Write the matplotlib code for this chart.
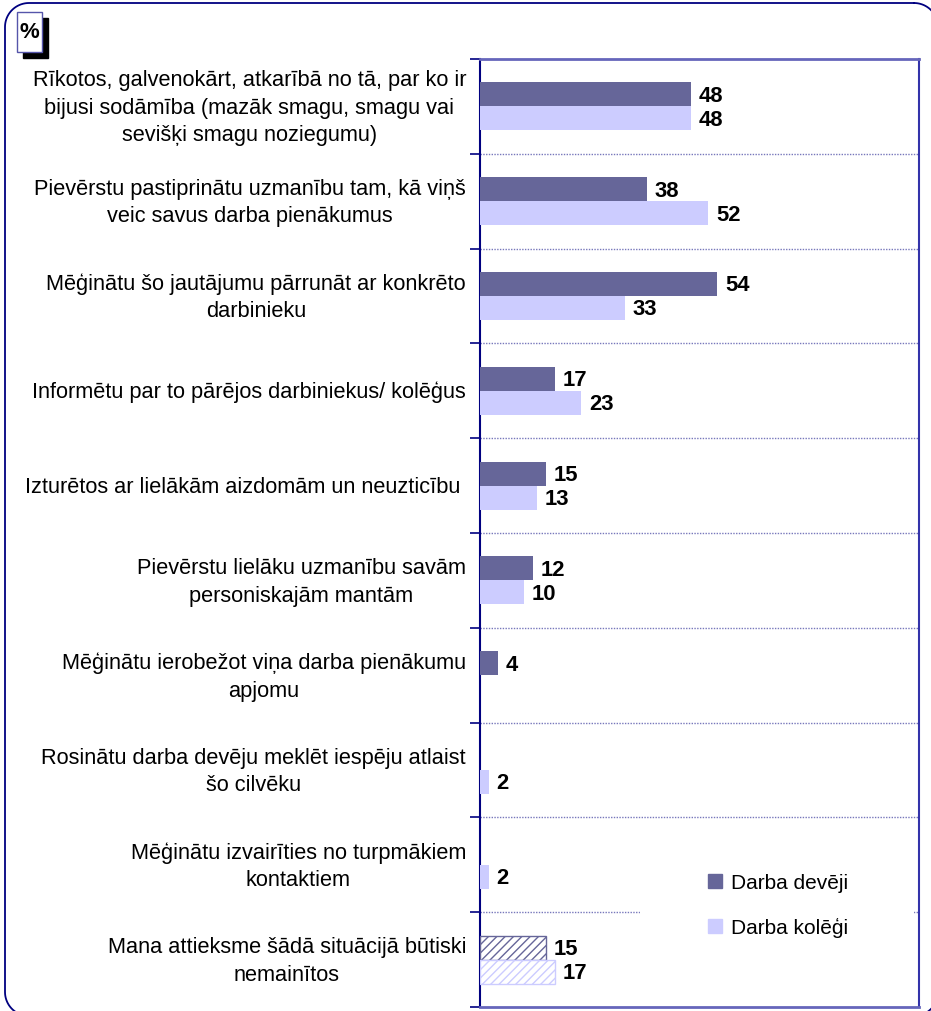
import numpy as np
import matplotlib.pyplot as plt
from matplotlib.patches import Rectangle
from matplotlib.lines import Line2D
from matplotlib.transforms import blended_transform_factory

plt.rcParams['font.family'] = ['Liberation Sans', 'DejaVu Sans']

# -----------------------------------
# DATA
# -----------------------------------
categories = [
    "Rīkotos, galvenokārt, atkarībā no tā, par ko ir\nbijusi sodāmība (mazāk smagu, smagu vai\nsevišķi smagu noziegumu)",
    "Pievērstu pastiprinātu uzmanību tam, kā viņš\nveic savus darba pienākumus",
    "Mēģinātu šo jautājumu pārrunāt ar konkrēto\ndarbinieku",
    "Informētu par to pārējos darbiniekus/ kolēģus",
    "Izturētos ar lielākām aizdomām un neuzticību ",
    "Pievērstu lielāku uzmanību savām\npersoniskajām mantām",
    "Mēģinātu ierobežot viņa darba pienākumu\napjomu",
    "Rosinātu darba devēju meklēt iespēju atlaist\nšo cilvēku",
    "Mēģinātu izvairīties no turpmākiem\nkontaktiem",
    "Mana attieksme šādā situācijā būtiski\nnemainītos",
]
deveji = [48, 38, 54, 17, 15, 12, 4, None, None, 15]
kolegi = [48, 52, 33, 23, 13, 10, None, 2, 2, 17]
series_names = ["Darba devēji", "Darba kolēģi"]

DARK = "#666699"
LIGHT = "#ccccff"
NAVY = "#000080"
GRID = "#7777bb"

# -----------------------------------
# FIGURE
# -----------------------------------
fig = plt.figure(figsize=(9.31, 10.12), dpi=100)
W, H = 931, 1012

# rounded outer frame, built as a polyline in pixel coords (y down)
x0, y0, x1, y1, r = 5, 4, 938, 1017, 24
t = np.linspace(0, np.pi / 2, 20)
px, py = [], []
for cx, cy, a0 in ((x1 - r, y0 + r, -np.pi / 2), (x1 - r, y1 - r, 0),
                   (x0 + r, y1 - r, np.pi / 2), (x0 + r, y0 + r, np.pi)):
    px.extend(cx + r * np.cos(a0 + t))
    py.extend(cy + r * np.sin(a0 + t))
px.append(px[0])
py.append(py[0])
fig.lines.append(Line2D(np.array(px) / W, 1 - np.array(py) / H,
                        transform=fig.transFigure, color=NAVY, linewidth=1.3))

# "%" box with shadow
fig.patches.append(Rectangle((23 / W, 1 - 59 / H), 25 / W, 40 / H,
                             transform=fig.transFigure, facecolor="black",
                             edgecolor="black"))
fig.patches.append(Rectangle((17 / W, 1 - 53 / H), 25 / W, 40 / H,
                             transform=fig.transFigure, facecolor="white",
                             edgecolor="#5555aa", linewidth=1))
fig.text(29.5 / W, 1 - 33 / H, "%", ha="center", va="center",
         fontsize=16, fontweight="bold")

ax = fig.add_axes([480 / W, 1 - 1008 / H, 439 / W, 948 / H])

y = np.arange(len(categories))
h = 0.253

for i in range(len(categories)):
    last = i == len(categories) - 1
    for val, off, col in ((deveji[i], -h / 2, DARK), (kolegi[i], h / 2, LIGHT)):
        if val is None:
            continue
        if last:
            ax.barh(y[i] + off, val, height=h, facecolor="white",
                    edgecolor=col, hatch="////", linewidth=1, zorder=3)
        else:
            ax.barh(y[i] + off, val, height=h, color=col, zorder=3)
        ax.text(val + 1.8, y[i] + off + 0.01, str(val), va="center", ha="left",
                fontsize=15.8, fontweight="bold", zorder=4)

ax.set_xlim(0, 100)
ax.set_ylim(len(categories) - 0.5, -0.5)

# category labels
trans = blended_transform_factory(fig.transFigure, ax.transData)
for i, lab in enumerate(categories):
    ax.text(466 / W, y[i] + 0.01, lab, transform=trans, ha="right", va="center",
            multialignment="center", fontsize=15.7, linespacing=1.4)

# gridlines at category boundaries
bounds = np.arange(len(categories) + 1) - 0.5
ax.set_yticks(bounds)
ax.set_yticklabels([])
ax.tick_params(axis="y", length=7, color=NAVY, width=1.2, direction="out")
ax.set_xticks([])
for b in bounds[1:-1]:
    ax.axhline(b, color=GRID, linestyle=(0, (1, 1)), linewidth=1, zorder=1)

ax.spines["left"].set_color(NAVY)
ax.spines["left"].set_linewidth(1.5)
ax.spines["right"].set_color("#3333aa")
ax.spines["right"].set_linewidth(1.5)
for s in ("top", "bottom"):
    ax.spines[s].set_color("#6666bb")
    ax.spines[s].set_linewidth(2)

# white area behind legend breaking the gridline
ax.add_patch(Rectangle((0.364, 0.03), 0.625, 0.09, transform=ax.transAxes,
                       facecolor="white", edgecolor="none", zorder=2))

handles = [Rectangle((0, 0), 1, 1, color=DARK), Rectangle((0, 0), 1, 1, color=LIGHT)]
leg = ax.legend(handles, series_names, loc="upper left",
                bbox_to_anchor=(0.5, 0.15), frameon=False, fontsize=15,
                handlelength=0.7, handleheight=0.7, handletextpad=0.4,
                labelspacing=1.2, borderaxespad=0)
leg.set_zorder(5)

fig.savefig("out.png", dpi=100)
